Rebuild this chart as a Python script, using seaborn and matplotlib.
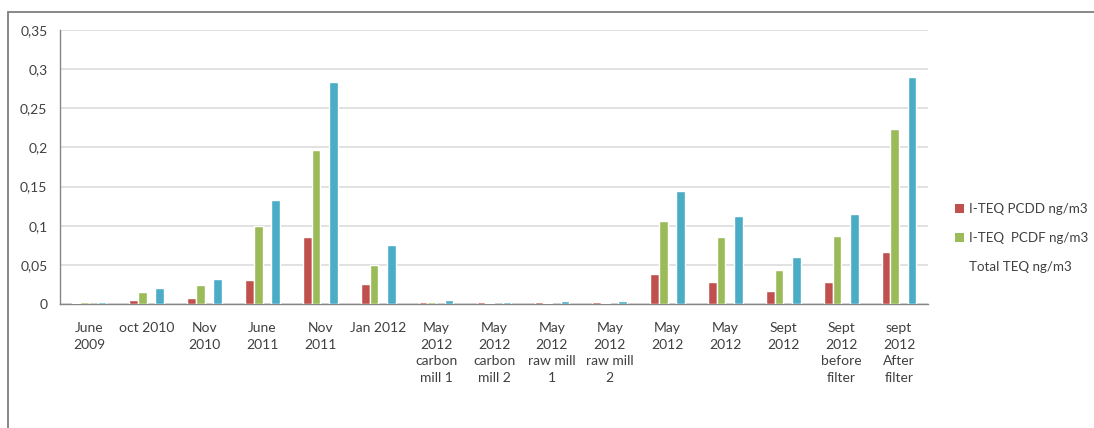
import matplotlib
matplotlib.use("Agg")
import matplotlib.pyplot as plt
from matplotlib.patches import Patch
from matplotlib.lines import Line2D
from matplotlib.ticker import FixedLocator, FuncFormatter
import seaborn as sns
import pandas as pd

# Sampling campaigns
campaigns = [
    "June\n2009", "oct 2010", "Nov\n2010", "June\n2011", "Nov\n2011", "Jan 2012",
    "May\n2012\ncarbon\nmill 1", "May\n2012\ncarbon\nmill 2", "May\n2012\nraw mill\n1",
    "May\n2012\nraw mill\n2", "May\n2012", "May\n2012", "Sept\n2012",
    "Sept\n2012\nbefore\nfilter", "sept\n2012\nAfter\nfilter",
]

# Measured concentrations, ng/m3
pcdd = [0.001, 0.005, 0.008, 0.031, 0.085, 0.025, 0.002, 0.002, 0.002, 0.002,
        0.038, 0.028, 0.016, 0.028, 0.066]
pcdf = [0.002, 0.015, 0.024, 0.100, 0.197, 0.050, 0.002, 0.001, 0.001, 0.001,
        0.106, 0.085, 0.044, 0.087, 0.224]
total = [0.003, 0.020, 0.032, 0.133, 0.283, 0.076, 0.005, 0.003, 0.004, 0.004,
         0.144, 0.113, 0.060, 0.115, 0.290]

lab_pcdd = "I-TEQ PCDD ng/m3"
lab_pcdf = "I-TEQ  PCDF ng/m3"
lab_total = "Total TEQ ng/m3"
lab_blank = " "

yticks = [0, 0.05, 0.1, 0.15, 0.2, 0.25, 0.3, 0.35]

# Long-form table; campaign labels repeat, so index them by position
n = len(campaigns)
rows = []
for i in range(n):
    rows.append((i, lab_pcdd, pcdd[i]))
    rows.append((i, lab_pcdf, pcdf[i]))
    rows.append((i, lab_total, total[i]))
df = pd.DataFrame(rows, columns=["idx", "series", "value"])

sns.set_style("white")
plt.rcParams["font.family"] = ["Lato", "DejaVu Sans"]

text_col = "#404040"
axis_col = "#868686"
grid_col = "#d9d9d9"

fig = plt.figure(figsize=(10.94, 4.28), dpi=100)
ax = fig.add_axes([60 / 1094, 1 - 304 / 428, 868 / 1094, 274 / 428])

palette = {lab_pcdd: "#C0504D", lab_pcdf: "#9BBB59",
           lab_blank: (1, 1, 1, 0), lab_total: "#4BACC6"}
sns.barplot(data=df, x="idx", y="value", hue="series",
            hue_order=[lab_pcdd, lab_pcdf, lab_blank, lab_total],
            palette=palette, width=0.6, gap=0, saturation=1,
            errorbar=None, legend=False, ax=ax, zorder=3)

ax.set_xlim(-0.5, n - 0.5)
ax.set_ylim(0, 0.35)
ax.set_xlabel("")
ax.set_ylabel("")

# y axis: gridlines with comma decimals
ax.yaxis.set_major_locator(FixedLocator(yticks))
ax.yaxis.set_major_formatter(FuncFormatter(lambda v, p: f"{v:g}".replace(".", ",")))
ax.grid(axis="y", color=grid_col, linewidth=1.1, zorder=0)
ax.set_axisbelow(True)

# x axis: labels centred, tick marks between categories
ax.set_xticks(range(n))
ax.set_xticklabels(campaigns, linespacing=1.45)
ax.xaxis.set_minor_locator(FixedLocator([i + 0.5 for i in range(-1, n)]))
ax.tick_params(axis="x", which="major", length=0, pad=13, labelsize=10, labelcolor=text_col)
ax.tick_params(axis="x", which="minor", length=5, width=1, color=axis_col, direction="out")
ax.tick_params(axis="y", which="major", length=5, width=1, color=axis_col, direction="out",
               labelsize=10, labelcolor=text_col, pad=4)
for lbl in ax.get_xticklabels():
    lbl.set_verticalalignment("top")

for side in ("top", "right"):
    ax.spines[side].set_visible(False)
for side in ("left", "bottom"):
    ax.spines[side].set_color(axis_col)
    ax.spines[side].set_linewidth(1)

# Legend: the total entry carries no marker
handles = [Patch(facecolor="#C0504D", edgecolor="none"),
           Patch(facecolor="#9BBB59", edgecolor="none"),
           Patch(facecolor="none", edgecolor="none")]
fig.legend(handles, [lab_pcdd, lab_pcdf, lab_total],
           loc="center left", bbox_to_anchor=(952 / 1094, 1 - 238 / 428),
           frameon=False, fontsize=9.6, labelcolor=text_col,
           handlelength=0.7, handleheight=0.7, handletextpad=0.4,
           labelspacing=1.25, borderaxespad=0, borderpad=0.2)

# Chart frame: top and left edges
fig.add_artist(Line2D([8 / 1094, 1.0], [1 - 12 / 428, 1 - 12 / 428],
                      transform=fig.transFigure, color="#7f7f7f", linewidth=1.3))
fig.add_artist(Line2D([8 / 1094, 8 / 1094], [0, 1 - 12 / 428],
                      transform=fig.transFigure, color="#7f7f7f", linewidth=1.3))

fig.savefig("out.png", dpi=100, facecolor="white")
